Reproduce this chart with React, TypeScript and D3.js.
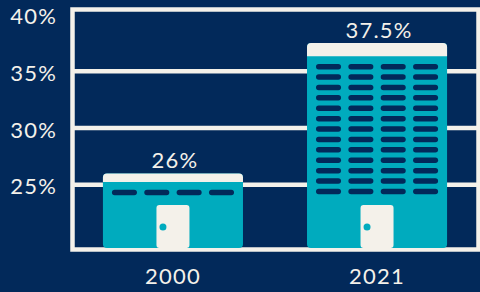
import React from 'react';
import { scaleBand, scaleLinear } from 'd3';

const years = ['2000', '2021'];
const shares = [26, 37.5];
const valueLabels = ['26%', '37.5%'];
const yTicks = [25, 30, 35, 40];
const gridTicks = [25, 30, 35];

const NAVY = '#02295a';
const TEAL = '#00abbe';
const CREAM = '#f4f1ea';
const FONT = 'Lato, "Open Sans", sans-serif';

const W = 480;
const H = 292;

export default function App() {
  const y = scaleLinear().domain([19.3, 40.45]).range([249.5, 9.5]);
  const x = scaleBand<string>()
    .domain(years)
    .range([71.5, 478.5])
    .paddingInner(0.3137)
    .paddingOuter(0.154);

  const [yBottom, yTop] = y.range();
  const frameL = 72.5;
  const frameR = 478.5;
  const bw = x.bandwidth();
  const barBottom = yBottom - 1.5;

  const textProps = {
    fill: CREAM,
    fontFamily: FONT,
    fontSize: 22,
    letterSpacing: 1.2,
  };

  return (
    <svg
      width={W}
      height={H}
      style={{ position: 'absolute', left: 0, top: 0, display: 'block' }}
    >
      <rect width={W} height={H} fill={NAVY} />

      {/* grid + frame */}
      {gridTicks.map((t) => (
        <line
          key={`g-${t}`}
          x1={frameL}
          x2={frameR}
          y1={y(t)}
          y2={y(t)}
          stroke={CREAM}
          strokeWidth={4.5}
        />
      ))}
      <rect
        x={frameL}
        y={yTop}
        width={frameR - frameL}
        height={yBottom - yTop}
        fill="none"
        stroke={CREAM}
        strokeWidth={4.5}
      />

      {/* y labels */}
      {yTicks.map((t) => (
        <text
          key={`yl-${t}`}
          x={57}
          y={y(t) + 1}
          textAnchor="end"
          dominantBaseline="central"
          {...textProps}
        >
          {t}%
        </text>
      ))}

      {/* buildings */}
      {years.map((yr, i) => {
        const bx = x(yr) ?? 0;
        const top = y(shares[i]);
        const h = barBottom - top;
        const roof = 6 + h * 0.035;
        const pad = 9;
        const dashW = 25;
        const dashH = 5.5;
        const gap = (bw - 2 * pad - 4 * dashW) / 3;
        const firstRow = top + roof + 10.5;
        const rowStep = 10.4;
        const rows = Math.floor((196 - firstRow) / rowStep) + 1;
        const cx = bx + bw / 2;
        const doorW = 33;
        const doorH = 43;
        return (
          <g key={`b-${yr}`}>
            <rect x={bx} y={top} width={bw} height={h} rx={4} fill={TEAL} />
            <path
              d={`M${bx},${top + roof} V${top + 4} Q${bx},${top} ${bx + 4},${top} H${bx + bw - 4} Q${bx + bw},${top} ${bx + bw},${top + 4} V${top + roof} Z`}
              fill={CREAM}
            />
            {Array.from({ length: rows }).map((_, r) =>
              [0, 1, 2, 3].map((c) => (
                <rect
                  key={`w-${r}-${c}`}
                  x={bx + pad + c * (dashW + gap)}
                  y={firstRow + r * rowStep - dashH / 2}
                  width={dashW}
                  height={dashH}
                  rx={dashH / 2}
                  fill={NAVY}
                />
              ))
            )}
            <rect
              x={cx - doorW / 2}
              y={barBottom - doorH}
              width={doorW}
              height={doorH}
              rx={3}
              fill={CREAM}
            />
            <circle cx={cx - doorW / 2 + 6.5} cy={barBottom - 21} r={3.5} fill={TEAL} />
            <text x={cx + 2} y={top - 5} textAnchor="middle" {...textProps}>
              {valueLabels[i]}
            </text>
            <text x={cx} y={284} textAnchor="middle" {...textProps}>
              {yr}
            </text>
          </g>
        );
      })}
    </svg>
  );
}
